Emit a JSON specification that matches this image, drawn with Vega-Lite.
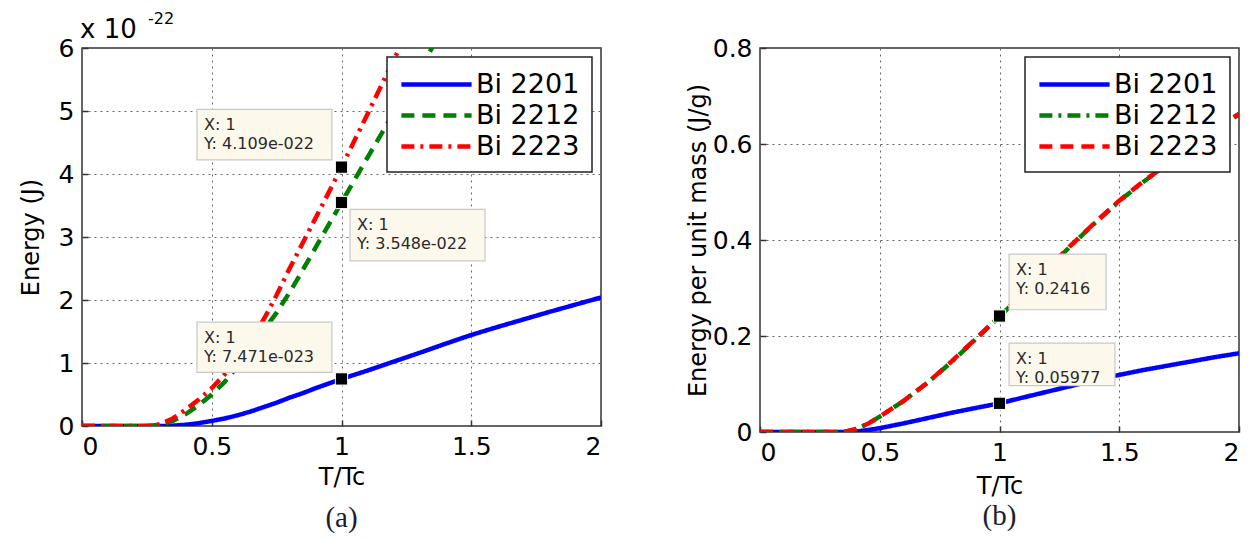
{
  "$schema": "https://vega.github.io/schema/vega-lite/v6.json",
  "padding": {"left": 18, "top": 10, "right": 2, "bottom": 0},
  "spacing": 82,
  "background": "white",
  "config": {
    "font": "DejaVu Sans",
    "view": {"stroke": "#333", "strokeWidth": 1.5},
    "axis": {
      "domain": false,
      "grid": true,
      "gridColor": "#666",
      "gridDash": [2, 4],
      "gridWidth": 1,
      "ticks": true,
      "tickSize": -6,
      "tickColor": "#333",
      "tickWidth": 1.5,
      "labelPadding": 14,
      "labelFont": "DejaVu Sans",
      "labelFontSize": 25,
      "labelColor": "black",
      "titleFont": "DejaVu Sans",
      "titleFontSize": 24,
      "titleFontWeight": "normal",
      "titleColor": "black",
      "format": "~g"
    },
    "legend": {
      "orient": "top-right",
      "offset": 9,
      "padding": 12,
      "fillColor": "white",
      "strokeColor": "#222",
      "strokeWidth": 1.5,
      "labelFont": "DejaVu Sans",
      "labelFontSize": 27,
      "labelColor": "black",
      "symbolType": "M-2.7,0H2.7",
      "symbolSize": 676,
      "symbolStrokeWidth": 4.5,
      "symbolOffset": 22,
      "labelOffset": 24,
      "rowPadding": 2
    }
  },
  "datasets": {
    "a": [
      {"x": 0, "y": 0, "s": "Bi 2201"}, {"x": 0.1, "y": 0, "s": "Bi 2201"}, {"x": 0.2, "y": 0, "s": "Bi 2201"}, {"x": 0.3, "y": 0, "s": "Bi 2201"},
      {"x": 0.35, "y": 0.005, "s": "Bi 2201"}, {"x": 0.4, "y": 0.02, "s": "Bi 2201"}, {"x": 0.45, "y": 0.045, "s": "Bi 2201"}, {"x": 0.5, "y": 0.08, "s": "Bi 2201"},
      {"x": 0.55, "y": 0.12, "s": "Bi 2201"}, {"x": 0.6, "y": 0.17, "s": "Bi 2201"}, {"x": 0.65, "y": 0.23, "s": "Bi 2201"}, {"x": 0.7, "y": 0.3, "s": "Bi 2201"},
      {"x": 0.75, "y": 0.37, "s": "Bi 2201"}, {"x": 0.8, "y": 0.45, "s": "Bi 2201"}, {"x": 0.85, "y": 0.52, "s": "Bi 2201"}, {"x": 0.9, "y": 0.6, "s": "Bi 2201"},
      {"x": 0.95, "y": 0.673, "s": "Bi 2201"}, {"x": 1.0, "y": 0.747, "s": "Bi 2201"}, {"x": 1.1, "y": 0.88, "s": "Bi 2201"}, {"x": 1.2, "y": 1.02, "s": "Bi 2201"},
      {"x": 1.3, "y": 1.16, "s": "Bi 2201"}, {"x": 1.4, "y": 1.305, "s": "Bi 2201"}, {"x": 1.5, "y": 1.445, "s": "Bi 2201"}, {"x": 1.6, "y": 1.57, "s": "Bi 2201"},
      {"x": 1.7, "y": 1.69, "s": "Bi 2201"}, {"x": 1.8, "y": 1.81, "s": "Bi 2201"}, {"x": 1.9, "y": 1.925, "s": "Bi 2201"}, {"x": 2.0, "y": 2.04, "s": "Bi 2201"},

      {"x": 0, "y": 0, "s": "Bi 2212"}, {"x": 0.1, "y": 0, "s": "Bi 2212"}, {"x": 0.2, "y": 0, "s": "Bi 2212"}, {"x": 0.25, "y": 0, "s": "Bi 2212"},
      {"x": 0.3, "y": 0.02, "s": "Bi 2212"}, {"x": 0.35, "y": 0.08, "s": "Bi 2212"}, {"x": 0.4, "y": 0.19, "s": "Bi 2212"}, {"x": 0.45, "y": 0.33, "s": "Bi 2212"},
      {"x": 0.5, "y": 0.5, "s": "Bi 2212"}, {"x": 0.55, "y": 0.7, "s": "Bi 2212"}, {"x": 0.6, "y": 0.95, "s": "Bi 2212"}, {"x": 0.65, "y": 1.23, "s": "Bi 2212"},
      {"x": 0.7, "y": 1.52, "s": "Bi 2212"}, {"x": 0.75, "y": 1.8, "s": "Bi 2212"}, {"x": 0.8, "y": 2.12, "s": "Bi 2212"}, {"x": 0.85, "y": 2.47, "s": "Bi 2212"},
      {"x": 0.9, "y": 2.83, "s": "Bi 2212"}, {"x": 0.95, "y": 3.19, "s": "Bi 2212"}, {"x": 1.0, "y": 3.548, "s": "Bi 2212"}, {"x": 1.1, "y": 4.26, "s": "Bi 2212"},
      {"x": 1.2, "y": 4.96, "s": "Bi 2212"}, {"x": 1.3, "y": 5.66, "s": "Bi 2212"}, {"x": 1.4, "y": 6.36, "s": "Bi 2212"},

      {"x": 0, "y": 0, "s": "Bi 2223"}, {"x": 0.1, "y": 0, "s": "Bi 2223"}, {"x": 0.2, "y": 0, "s": "Bi 2223"}, {"x": 0.27, "y": 0, "s": "Bi 2223"},
      {"x": 0.3, "y": 0.03, "s": "Bi 2223"}, {"x": 0.35, "y": 0.12, "s": "Bi 2223"}, {"x": 0.4, "y": 0.26, "s": "Bi 2223"}, {"x": 0.45, "y": 0.42, "s": "Bi 2223"},
      {"x": 0.5, "y": 0.6, "s": "Bi 2223"}, {"x": 0.55, "y": 0.82, "s": "Bi 2223"}, {"x": 0.6, "y": 1.08, "s": "Bi 2223"}, {"x": 0.65, "y": 1.37, "s": "Bi 2223"},
      {"x": 0.7, "y": 1.69, "s": "Bi 2223"}, {"x": 0.75, "y": 2.08, "s": "Bi 2223"}, {"x": 0.8, "y": 2.5, "s": "Bi 2223"}, {"x": 0.85, "y": 2.9, "s": "Bi 2223"},
      {"x": 0.9, "y": 3.3, "s": "Bi 2223"}, {"x": 0.95, "y": 3.7, "s": "Bi 2223"}, {"x": 1.0, "y": 4.109, "s": "Bi 2223"}, {"x": 1.1, "y": 4.95, "s": "Bi 2223"},
      {"x": 1.2, "y": 5.8, "s": "Bi 2223"}, {"x": 1.3, "y": 6.65, "s": "Bi 2223"}
    ],
    "b": [
      {"x": 0, "y": 0, "s": "Bi 2201"}, {"x": 0.1, "y": 0, "s": "Bi 2201"}, {"x": 0.2, "y": 0, "s": "Bi 2201"}, {"x": 0.3, "y": 0, "s": "Bi 2201"},
      {"x": 0.37, "y": 0, "s": "Bi 2201"}, {"x": 0.4, "y": 0.001, "s": "Bi 2201"}, {"x": 0.45, "y": 0.004, "s": "Bi 2201"}, {"x": 0.5, "y": 0.008, "s": "Bi 2201"},
      {"x": 0.6, "y": 0.018, "s": "Bi 2201"}, {"x": 0.7, "y": 0.029, "s": "Bi 2201"}, {"x": 0.8, "y": 0.04, "s": "Bi 2201"}, {"x": 0.9, "y": 0.05, "s": "Bi 2201"},
      {"x": 1.0, "y": 0.0598, "s": "Bi 2201"}, {"x": 1.1, "y": 0.072, "s": "Bi 2201"}, {"x": 1.2, "y": 0.084, "s": "Bi 2201"}, {"x": 1.3, "y": 0.096, "s": "Bi 2201"},
      {"x": 1.4, "y": 0.108, "s": "Bi 2201"}, {"x": 1.5, "y": 0.119, "s": "Bi 2201"}, {"x": 1.6, "y": 0.129, "s": "Bi 2201"}, {"x": 1.7, "y": 0.138, "s": "Bi 2201"},
      {"x": 1.8, "y": 0.147, "s": "Bi 2201"}, {"x": 1.9, "y": 0.156, "s": "Bi 2201"}, {"x": 2.0, "y": 0.164, "s": "Bi 2201"},

      {"x": 0, "y": 0, "s": "Bi 2212"}, {"x": 0.1, "y": 0, "s": "Bi 2212"}, {"x": 0.2, "y": 0, "s": "Bi 2212"}, {"x": 0.3, "y": 0, "s": "Bi 2212"},
      {"x": 0.35, "y": 0, "s": "Bi 2212"}, {"x": 0.4, "y": 0.006, "s": "Bi 2212"}, {"x": 0.45, "y": 0.017, "s": "Bi 2212"}, {"x": 0.5, "y": 0.032, "s": "Bi 2212"},
      {"x": 0.6, "y": 0.065, "s": "Bi 2212"}, {"x": 0.7, "y": 0.103, "s": "Bi 2212"}, {"x": 0.8, "y": 0.146, "s": "Bi 2212"}, {"x": 0.9, "y": 0.193, "s": "Bi 2212"},
      {"x": 1.0, "y": 0.2405, "s": "Bi 2212"}, {"x": 1.1, "y": 0.289, "s": "Bi 2212"}, {"x": 1.2, "y": 0.339, "s": "Bi 2212"}, {"x": 1.3, "y": 0.389, "s": "Bi 2212"},
      {"x": 1.4, "y": 0.436, "s": "Bi 2212"}, {"x": 1.5, "y": 0.481, "s": "Bi 2212"}, {"x": 1.6, "y": 0.521, "s": "Bi 2212"}, {"x": 1.7, "y": 0.557, "s": "Bi 2212"},
      {"x": 1.8, "y": 0.594, "s": "Bi 2212"}, {"x": 1.9, "y": 0.629, "s": "Bi 2212"}, {"x": 2.0, "y": 0.662, "s": "Bi 2212"},

      {"x": 0, "y": 0, "s": "Bi 2223"}, {"x": 0.1, "y": 0, "s": "Bi 2223"}, {"x": 0.2, "y": 0, "s": "Bi 2223"}, {"x": 0.3, "y": 0, "s": "Bi 2223"},
      {"x": 0.35, "y": 0, "s": "Bi 2223"}, {"x": 0.4, "y": 0.006, "s": "Bi 2223"}, {"x": 0.45, "y": 0.017, "s": "Bi 2223"}, {"x": 0.5, "y": 0.032, "s": "Bi 2223"},
      {"x": 0.6, "y": 0.065, "s": "Bi 2223"}, {"x": 0.7, "y": 0.103, "s": "Bi 2223"}, {"x": 0.8, "y": 0.147, "s": "Bi 2223"}, {"x": 0.9, "y": 0.194, "s": "Bi 2223"},
      {"x": 1.0, "y": 0.2416, "s": "Bi 2223"}, {"x": 1.1, "y": 0.29, "s": "Bi 2223"}, {"x": 1.2, "y": 0.34, "s": "Bi 2223"}, {"x": 1.3, "y": 0.39, "s": "Bi 2223"},
      {"x": 1.4, "y": 0.437, "s": "Bi 2223"}, {"x": 1.5, "y": 0.482, "s": "Bi 2223"}, {"x": 1.6, "y": 0.522, "s": "Bi 2223"}, {"x": 1.7, "y": 0.558, "s": "Bi 2223"},
      {"x": 1.8, "y": 0.595, "s": "Bi 2223"}, {"x": 1.9, "y": 0.63, "s": "Bi 2223"}, {"x": 2.0, "y": 0.663, "s": "Bi 2223"}
    ],
    "tipsA": [
      {"x1": 0.443, "x2": 0.963, "y1": 5.026, "y2": 4.225, "l1": "X: 1", "l2": "Y: 4.109e-022", "px": 1, "py": 4.109},
      {"x1": 1.033, "x2": 1.553, "y1": 3.44, "y2": 2.62, "l1": "X: 1", "l2": "Y: 3.548e-022", "px": 1, "py": 3.548},
      {"x1": 0.443, "x2": 0.963, "y1": 1.65, "y2": 0.85, "l1": "X: 1", "l2": "Y: 7.471e-023", "px": 1, "py": 0.7471}
    ],
    "tipsB": [
      {"x1": 1.04, "x2": 1.445, "y1": 0.3705, "y2": 0.2547, "l1": "X: 1", "l2": "Y: 0.2416", "px": 1, "py": 0.2416},
      {"x1": 1.04, "x2": 1.482, "y1": 0.1853, "y2": 0.0968, "l1": "X: 1", "l2": "Y: 0.05977", "px": 1, "py": 0.05977}
    ]
  },
  "resolve": {"scale": {"x": "independent", "y": "independent", "color": "independent", "strokeDash": "independent"}},
  "hconcat": [
    {
      "width": 519,
      "height": 378,
      "title": {"text": "(a)", "orient": "bottom", "font": "Liberation Serif", "fontSize": 29, "fontWeight": "normal", "color": "#1c1c30", "offset": 15},
      "layer": [
        {
          "data": {"name": "a"},
          "mark": {"type": "line", "strokeWidth": 4.5, "clip": true},
          "encoding": {
            "x": {"field": "x", "type": "quantitative", "title": "T/Tc", "scale": {"domain": [0, 2], "nice": false}, "axis": {"values": [0, 0.5, 1, 1.5, 2], "titlePadding": 6}},
            "y": {"field": "y", "type": "quantitative", "title": "Energy (J)", "scale": {"domain": [0, 6], "nice": false}, "axis": {"values": [0, 1, 2, 3, 4, 5, 6], "titlePadding": 15}},
            "color": {"field": "s", "type": "nominal", "title": null, "scale": {"domain": ["Bi 2201", "Bi 2212", "Bi 2223"], "range": ["#0000FF", "#008000", "#FF0000"]}},
            "strokeDash": {"field": "s", "type": "nominal", "title": null, "scale": {"domain": ["Bi 2201", "Bi 2212", "Bi 2223"], "range": [[1, 0], [13, 8], [13, 6, 3, 6]]}}
          }
        },
        {
          "data": {"name": "tipsA"},
          "mark": {"type": "rect", "fill": "#FCF8EC", "stroke": "#C8C8C8", "strokeWidth": 1.2},
          "encoding": {
            "x": {"field": "x1", "type": "quantitative"},
            "x2": {"field": "x2"},
            "y": {"field": "y1", "type": "quantitative"},
            "y2": {"field": "y2"}
          }
        },
        {
          "data": {"name": "tipsA"},
          "mark": {"type": "text", "align": "left", "baseline": "middle", "dx": 7, "dy": 16, "fontSize": 16, "color": "#2a2a2a"},
          "encoding": {
            "x": {"field": "x1", "type": "quantitative"},
            "y": {"field": "y1", "type": "quantitative"},
            "text": {"field": "l1"}
          }
        },
        {
          "data": {"name": "tipsA"},
          "mark": {"type": "text", "align": "left", "baseline": "middle", "dx": 7, "dy": 35, "fontSize": 16, "color": "#2a2a2a"},
          "encoding": {
            "x": {"field": "x1", "type": "quantitative"},
            "y": {"field": "y1", "type": "quantitative"},
            "text": {"field": "l2"}
          }
        },
        {
          "data": {"name": "tipsA"},
          "mark": {"type": "point", "shape": "square", "size": 150, "filled": true, "color": "black", "opacity": 1, "stroke": "white", "strokeWidth": 1},
          "encoding": {
            "x": {"field": "px", "type": "quantitative"},
            "y": {"field": "py", "type": "quantitative"}
          }
        },
        {
          "data": {"values": [{}]},
          "mark": {"type": "text", "align": "left", "baseline": "middle", "dx": -2, "dy": -18, "fontSize": 26, "color": "black", "text": "x 10"},
          "encoding": {"x": {"datum": 0}, "y": {"datum": 6}}
        },
        {
          "data": {"values": [{}]},
          "mark": {"type": "text", "align": "left", "baseline": "middle", "dx": 66, "dy": -29, "fontSize": 16, "color": "black", "text": "-22"},
          "encoding": {"x": {"datum": 0}, "y": {"datum": 6}}
        }
      ]
    },
    {
      "width": 479,
      "height": 384,
      "title": {"text": "(b)", "orient": "bottom", "font": "Liberation Serif", "fontSize": 29, "fontWeight": "normal", "color": "#1c1c30", "offset": 4},
      "layer": [
        {
          "data": {"name": "b"},
          "mark": {"type": "line", "strokeWidth": 4.5, "clip": true},
          "encoding": {
            "x": {"field": "x", "type": "quantitative", "title": "T/Tc", "scale": {"domain": [0, 2], "nice": false}, "axis": {"values": [0, 0.5, 1, 1.5, 2], "titlePadding": 9}},
            "y": {"field": "y", "type": "quantitative", "title": "Energy per unit mass (J/g)", "scale": {"domain": [0, 0.8], "nice": false}, "axis": {"values": [0, 0.2, 0.4, 0.6, 0.8], "titlePadding": 2}},
            "color": {"field": "s", "type": "nominal", "title": null, "scale": {"domain": ["Bi 2201", "Bi 2212", "Bi 2223"], "range": ["#0000FF", "#008000", "#FF0000"]}},
            "strokeDash": {"field": "s", "type": "nominal", "title": null, "scale": {"domain": ["Bi 2201", "Bi 2212", "Bi 2223"], "range": [[1, 0], [13, 6, 3, 6], [13, 8]]}}
          }
        },
        {
          "data": {"name": "tipsB"},
          "mark": {"type": "rect", "fill": "#FCF8EC", "stroke": "#C8C8C8", "strokeWidth": 1.2},
          "encoding": {
            "x": {"field": "x1", "type": "quantitative"},
            "x2": {"field": "x2"},
            "y": {"field": "y1", "type": "quantitative"},
            "y2": {"field": "y2"}
          }
        },
        {
          "data": {"name": "tipsB"},
          "mark": {"type": "text", "align": "left", "baseline": "middle", "dx": 7, "dy": 16, "fontSize": 16, "color": "#2a2a2a"},
          "encoding": {
            "x": {"field": "x1", "type": "quantitative"},
            "y": {"field": "y1", "type": "quantitative"},
            "text": {"field": "l1"}
          }
        },
        {
          "data": {"name": "tipsB"},
          "mark": {"type": "text", "align": "left", "baseline": "middle", "dx": 7, "dy": 35, "fontSize": 16, "color": "#2a2a2a"},
          "encoding": {
            "x": {"field": "x1", "type": "quantitative"},
            "y": {"field": "y1", "type": "quantitative"},
            "text": {"field": "l2"}
          }
        },
        {
          "data": {"name": "tipsB"},
          "mark": {"type": "point", "shape": "square", "size": 150, "filled": true, "color": "black", "opacity": 1, "stroke": "white", "strokeWidth": 1},
          "encoding": {
            "x": {"field": "px", "type": "quantitative"},
            "y": {"field": "py", "type": "quantitative"}
          }
        }
      ]
    }
  ]
}
